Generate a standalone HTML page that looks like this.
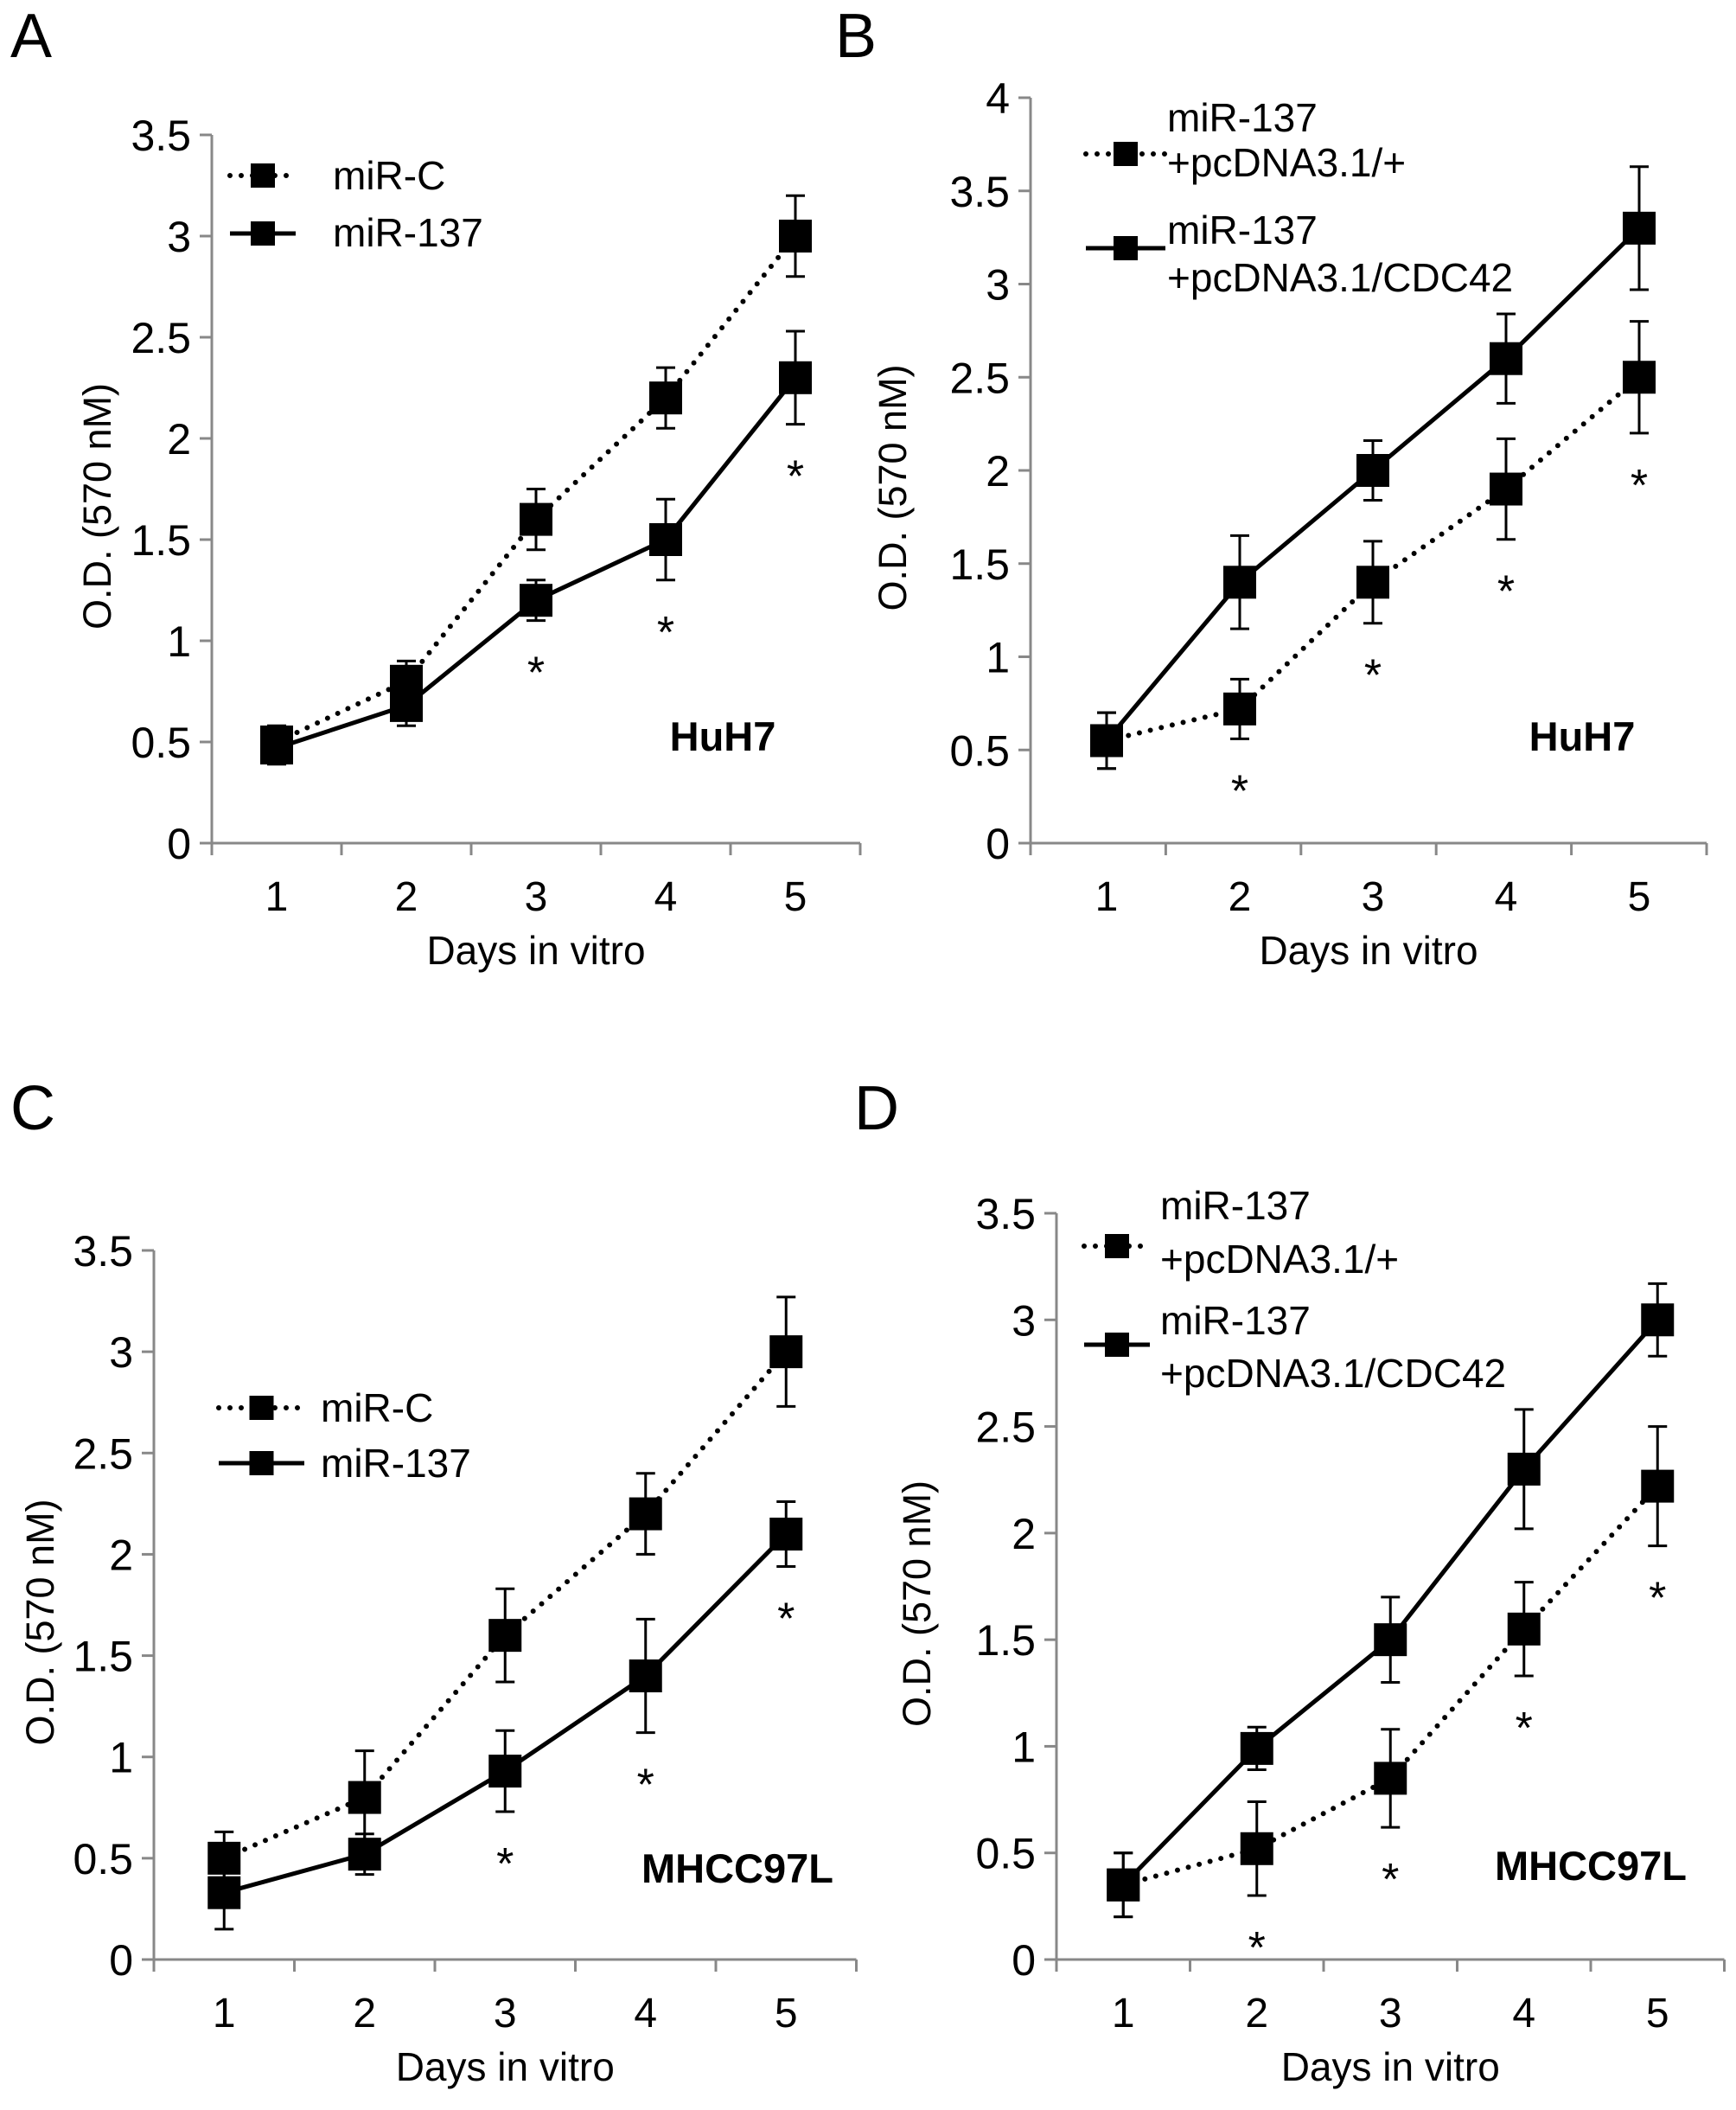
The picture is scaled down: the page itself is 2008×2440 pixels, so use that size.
<!DOCTYPE html>
<html><head><meta charset="utf-8"><style>
html,body{margin:0;padding:0;background:#fff;}
svg{display:block;font-family:"Liberation Sans",Arial,sans-serif;}
</style></head><body>
<svg id="fig" width="2008" height="2440" viewBox="0 0 2008 2440" xmlns="http://www.w3.org/2000/svg"></svg>
<script>
const days = [1,2,3,4,5];
// Panel A
const aCtrl = [0.5,0.8,1.6,2.2,3.0];
const aCtrlErr = [0.08,0.1,0.15,0.15,0.2];
const aMir = [0.47,0.68,1.2,1.5,2.3];
const aMirErr = [0.08,0.1,0.1,0.2,0.23];
// Panel B
const bVec = [0.55,0.72,1.4,1.9,2.5];
const bVecErr = [0.15,0.16,0.22,0.27,0.3];
const bCdc = [0.55,1.4,2.0,2.6,3.3];
const bCdcErr = [0.15,0.25,0.16,0.24,0.33];
// Panel C
const cCtrl = [0.5,0.8,1.6,2.2,3.0];
const cCtrlErr = [0.13,0.23,0.23,0.2,0.27];
const cMir = [0.33,0.52,0.93,1.4,2.1];
const cMirErr = [0.18,0.1,0.2,0.28,0.16];
// Panel D
const dVec = [0.35,0.52,0.85,1.55,2.22];
const dVecErr = [0.15,0.22,0.23,0.22,0.28];
const dCdc = [0.35,0.99,1.5,2.3,3.0];
const dCdcErr = [0.15,0.1,0.2,0.28,0.17];
const ticksA = ["0","0.5","1","1.5","2","2.5","3","3.5"];
const ticksB = ["0","0.5","1","1.5","2","2.5","3","3.5","4"];
const starsA = [3,4,5], starsB=[2,3,4,5], starsC=[3,4,5], starsD=[2,3,4,5];

const NS="http://www.w3.org/2000/svg";
const svg=document.getElementById('fig');
function el(tag,attrs,parent,text){const e=document.createElementNS(NS,tag);for(const k in attrs)e.setAttribute(k,attrs[k]);if(text!==undefined)e.textContent=text;(parent||svg).appendChild(e);return e;}

function panel(cfg){
  const g=el('g',{});
  
  
  const ymax=cfg.ticks.length-1;
  const xoff=cfg.xoff||0;
  const y=v=>cfg.y0-(v/(ymax*0.5))*(cfg.y0-cfg.yTop);
  const x=d=>cfg.ax+cfg.step*(d-0.5)+xoff;
  const t=el('text',{x:cfg.lx,y:cfg.ly,'font-size':72},g,cfg.letter);
  
  
  const ya=el('line',{x1:cfg.ax,y1:cfg.yTop,x2:cfg.ax,y2:cfg.y0,stroke:'#888','stroke-width':3},g);
  
  
  const xend=cfg.xend||cfg.ax+cfg.step*5;
  const xa=el('line',{x1:cfg.ax-14,y1:cfg.y0,x2:xend,y2:cfg.y0,stroke:'#888','stroke-width':3},g);
  
  
  cfg.ticks.forEach((lab,i)=>{
    const yy=y(i*0.5);
    el('line',{x1:cfg.ax-14,y1:yy,x2:cfg.ax,y2:yy,stroke:'#888','stroke-width':3},g);
    const tl=el('text',{x:cfg.ax-24,y:yy+18,'font-size':50,'text-anchor':'end'},g,lab);
    
    
  });
  const tstep=(xend-cfg.ax)/5;
  for(let i=0;i<=5;i++){const xx=cfg.ax+tstep*i;el('line',{x1:xx,y1:cfg.y0,x2:xx,y2:cfg.y0+14,stroke:'#888','stroke-width':3},g);}
  days.forEach(d=>{
    const tl=el('text',{x:x(d),y:cfg.y0+78,'font-size':48,'text-anchor':'middle'},g,String(d));
    
    
  });
  const xt=el('text',{x:(cfg.ax+xend)/2,y:cfg.y0+140,'font-size':46,'text-anchor':'middle'},g,'Days in vitro');
  
  
  const yt=el('text',{x:0,y:0,'font-size':45,'text-anchor':'middle',transform:`translate(${cfg.ytx},${(cfg.yTop+cfg.y0)/2+20}) rotate(-90)`},g,'O.D. (570 nM)');
  
  
  cfg.series.forEach(s=>{
    const sg=el('g',{},g);
    
    
    const pts=s.vals.map((v,i)=>x(days[i])+','+y(v)).join(' ');
    const attrs={points:pts,fill:'none',stroke:'#000','stroke-width':s.dot?6:5,'stroke-linejoin':'round'};
    if(s.dot){attrs['stroke-dasharray']='0 13';attrs['stroke-linecap']='round';}
    el('polyline',attrs,sg);
    s.vals.forEach((v,i)=>{
      const xx=x(days[i]),e=s.err[i];
      el('line',{x1:xx,y1:y(v+e),x2:xx,y2:y(v-e),stroke:'#000','stroke-width':3},sg);
      el('line',{x1:xx-11,y1:y(v+e),x2:xx+11,y2:y(v+e),stroke:'#000','stroke-width':3},sg);
      el('line',{x1:xx-11,y1:y(v-e),x2:xx+11,y2:y(v-e),stroke:'#000','stroke-width':3},sg);
      const m=el('rect',{x:xx-19,y:y(v)-19,width:38,height:38,fill:'#000'},sg);
      
      
    });
  });
  cfg.stars.forEach(d=>{
    const i=d-1;let low=Infinity;
    cfg.series.forEach(s=>{low=Math.min(low,s.vals[i]-s.err[i]);});
    const st=el('text',{x:x(d),y:y(low)+78,'font-size':52,'text-anchor':'middle'},g,'*');
    
    
  });
  const cl=el('text',{x:cfg.cx,y:cfg.cy,'font-size':47,'font-weight':'bold','text-anchor':'middle'},g,cfg.cell);
  
  
  cfg.legend.forEach(L=>{
    const lg=el('g',{},g);
    
    
    const a={x1:L.x1,y1:L.y,x2:L.x2,y2:L.y,stroke:'#000','stroke-width':L.dot?6:5};
    if(L.dot){a['stroke-dasharray']='0 13';a['stroke-linecap']='round';}
    el('line',a,lg);
    el('rect',{x:(L.x1+L.x2)/2-14,y:L.y-14,width:28,height:28,fill:'#000'},lg);
    L.lines.forEach(tl=>el('text',{x:L.tx,y:tl[1],'font-size':46},lg,tl[0]));
  });
}

panel({letter:'A',lx:12,ly:66,ax:245,y0:975,yTop:156,step:150,ticks:ticksA,ytx:128,
 series:[{name:'series-mir-c',vals:aCtrl,err:aCtrlErr,dot:true},{name:'series-mir-137',vals:aMir,err:aMirErr,dot:false}],
 stars:starsA,cell:'HuH7',cx:836,cy:868,
 legend:[{x1:266,x2:342,y:203,dot:true,tx:385,lines:[['miR-C',219]]},{x1:266,x2:342,y:270,dot:false,tx:385,lines:[['miR-137',285]]}]});
panel({letter:'B',lx:966,ly:66,ax:1192,xoff:11,xend:1974,y0:975,yTop:113,step:154,ticks:ticksB,ytx:1048,
 series:[{name:'series-vector',vals:bVec,err:bVecErr,dot:true},{name:'series-cdc42',vals:bCdc,err:bCdcErr,dot:false}],
 stars:starsB,cell:'HuH7',cx:1830,cy:868,
 legend:[{x1:1256,x2:1348,y:178,dot:true,tx:1350,lines:[['miR-137',152],['+pcDNA3.1/+',204]]},{x1:1256,x2:1348,y:287,dot:false,tx:1350,lines:[['miR-137',282],['+pcDNA3.1/CDC42',337]]}]});
panel({letter:'C',lx:12,ly:1306,ax:178,y0:2266,yTop:1446,step:162.5,ticks:ticksA,ytx:62,
 series:[{name:'series-mir-c',vals:cCtrl,err:cCtrlErr,dot:true},{name:'series-mir-137',vals:cMir,err:cMirErr,dot:false}],
 stars:starsC,cell:'MHCC97L',cx:853,cy:2177,
 legend:[{x1:253,x2:352,y:1628,dot:true,tx:371,lines:[['miR-C',1644]]},{x1:253,x2:352,y:1692,dot:false,tx:371,lines:[['miR-137',1708]]}]});
panel({letter:'D',lx:988,ly:1306,ax:1222,y0:2266,yTop:1403,step:154.5,ticks:ticksA,ytx:1076,
 series:[{name:'series-vector',vals:dVec,err:dVecErr,dot:true},{name:'series-cdc42',vals:dCdc,err:dCdcErr,dot:false}],
 stars:starsD,cell:'MHCC97L',cx:1840,cy:2174,
 legend:[{x1:1254,x2:1330,y:1441,dot:true,tx:1342,lines:[['miR-137',1410],['+pcDNA3.1/+',1472]]},{x1:1254,x2:1330,y:1555,dot:false,tx:1342,lines:[['miR-137',1543],['+pcDNA3.1/CDC42',1604]]}]});
</script>
</body></html>
